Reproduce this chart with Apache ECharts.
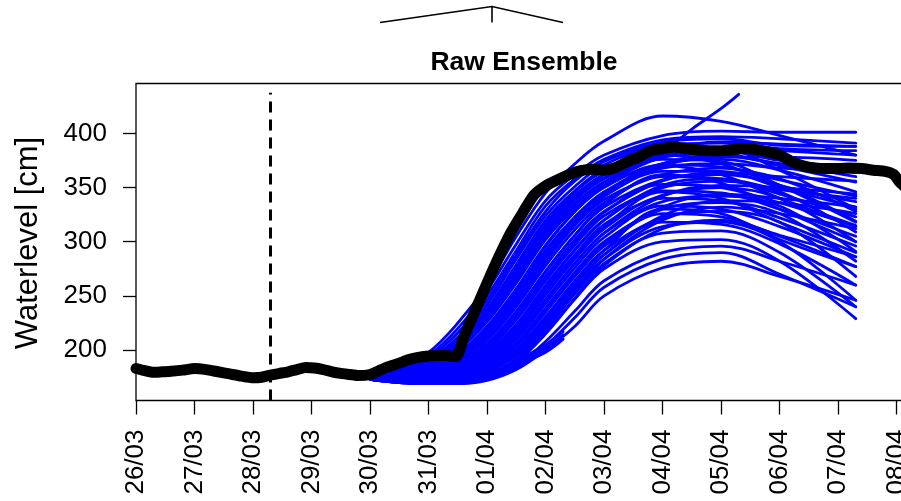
<!DOCTYPE html>
<html>
<head>
<meta charset="utf-8">
<script src="https://cdn.jsdelivr.net/npm/echarts@6/dist/echarts.min.js"></script>
<style>html,body{margin:0;padding:0;background:#fff;}#c{width:901px;height:501px;}</style>
</head>
<body>
<div id="c"></div>
<script>
// ---- data (days since 26/03 00:00) ----
const tickLabels = ['26/03','27/03','28/03','29/03','30/03','31/03','01/04','02/04','03/04','04/04','05/04','06/04','07/04','08/04'];
const xTickDays = [0,1,2,3,4,5,6,7,8,9,10,11,12,13];
const yTicks = [200,250,300,350,400];
const forecastStartDay = 2.29;

const obsDays = [0,0.15,0.3,0.45,0.6,0.8,1.0,1.2,1.4,1.6,1.8,2.0,2.15,2.3,2.45,2.6,2.75,2.9,3.05,3.2,3.35,3.5,3.65,3.8,4.0,4.15,4.3,4.5,4.65,4.8,5.0,5.15,5.3,5.47,5.6,5.8,6.0,6.2,6.4,6.6,6.8,7.0,7.2,7.4,7.6,7.8,8.0,8.2,8.4,8.6,8.8,9.0,9.2,9.4,9.6,9.8,10.0,10.2,10.4,10.6,10.8,11.0,11.2,11.4,11.6,11.8,12.0,12.2,12.4,12.6,12.8,12.95,13.05,13.15];
const obsValues = [183,181,179.5,180,180.5,181.5,183,182,180,178,176,174.5,175,177,178.5,180,182,184,183.5,182,180,178.5,177.5,176.5,177.5,181,184.5,188,191,193,194.5,195,195,194,212,237,262,286,308,326,343,351.5,357,362,365.5,366.8,366,368.6,374,378.5,384,386,387.5,386,384.6,384,384,385,386,385,383,380,374,370,368,367.5,367.5,368,367.5,366,365,362,355,350];

const ensDays = [4.0,4.5,5.0,5.5,6.0,6.5,7.0,7.5,8.0,9.0,10.0,11.0,12.3];
const ensMembers = [
  [176,185,198,225,260,305,345,372,393,416,411,398,380],
  [175,183,195,220,255,298,338,362,380,398,402,401,401],
  [175,182,193,216,250,292,333,358,376,394,397,395,391],
  [175,182,191,212,246,288,328,356,374,392,395,389,388],
  [176,181,190,209,242,284,324,351,371,389,391,386,384],
  [175,181,189,207,238,279,320,347,367,385,386,366,330],
  [175,180,188,205,235,275,316,343,362,382,380,372,360],
  [174,180,187,203,232,271,311,340,359,378,381,370,355],
  [175,180,187,202,229,266,306,335,355,376,374,352,318],
  [174,179,186,200,226,262,302,331,352,372,376,366,346],
  [175,179,185,197,222,257,297,328,350,371,369,357,342],
  [174,178,184,195,219,252,292,323,346,368,372,368,364],
  [175,178,183,193,215,248,287,319,342,365,365,350,332],
  [174,178,182,191,212,244,282,315,339,362,368,358,328],
  [174,177,181,189,209,240,278,311,336,360,358,344,323],
  [175,177,180,187,206,236,273,306,332,357,362,352,319],
  [174,176,179,186,203,232,268,302,328,353,350,336,314],
  [174,176,178,184,200,228,264,297,324,350,356,346,309],
  [174,175,177,183,198,224,260,293,320,347,345,330,305],
  [175,175,176,181,195,220,255,288,316,343,350,340,300],
  [174,174,175,180,193,216,251,284,312,340,338,322,296],
  [174,174,175,179,191,213,247,280,308,337,342,333,291],
  [174,173,174,178,189,210,243,276,304,333,330,314,286],
  [173,173,173,176,187,207,239,272,300,330,336,326,282],
  [174,172,172,175,185,204,235,268,296,326,323,305,277],
  [173,172,172,174,183,201,231,264,292,322,328,318,268],
  [174,172,171,173,181,198,227,260,288,318,316,298,260],
  [173,171,171,172,179,195,223,256,284,314,318,300,246],
  [173,171,170,171,177,192,219,252,280,308,310,290,240],
  [173,171,170,170,175,189,215,247,275,300,302,282,229],
  [173,170,169,169,172,182,200,222,250,276,282,268,246],
  [173,170,169,169,173,184,204,230,258,284,290,270,240],
  [173,170,169,170,174,186,208,236,264,290,296,282,260],
  [175,180,188,206,236,276,318,346,365,380,372,352,337],
  [174,178,184,196,220,255,296,328,352,378,384,375,368],
  [174,177,181,190,210,242,282,316,342,370,378,378,375],
  [174,176,179,185,201,229,266,300,327,356,364,360,356],
  [174,175,177,182,196,222,258,292,320,352,358,348,340],
  [173,174,175,179,190,212,246,280,308,342,352,350,344],
  [173,173,174,177,186,204,236,270,298,332,344,340,332],
  [174,176,179,186,204,234,272,306,334,362,354,330,300],
  [174,177,182,192,214,246,285,318,344,370,362,340,315],
  [173,172,172,174,182,198,226,258,288,324,338,336,326],
  [173,172,171,173,180,195,222,254,284,320,332,326,312],
  [174,175,177,181,194,218,252,286,314,346,340,318,290],
  [173,173,173,175,184,200,230,262,292,330,326,302,277],
  [174,179,186,201,230,268,308,338,358,380,386,384,380],
  [173,171,170,171,176,190,216,248,278,312,320,306,286],
  [174,178,183,194,217,250,290,322,346,372,380,372,364],
  [175,180,187,204,233,272,313,342,362,384,392,390,388]
];

const shortDays = [4.0,4.5,5.0,5.5,6.0,6.5,7.0,7.3];
const shortMembers = [
  [173,170,169,170,175,186,198,210],
  [173,170,169,170,176,188,202,214],
  [173,171,170,171,177,190,205,217]
];

const outlierDays = [4.0,4.5,5.0,5.5,6.0,6.5,7.0,7.5,8.0,9.0,9.5,10.0,10.3];
const outlierValues = [175,179,186,201,228,265,305,334,355,383,404,423,436];

// ---- chart ----
const FONT = 'Liberation Sans, Arial, Helvetica, sans-serif';
const BLUE = '#0000ff';
const Y_MIN = 153.5, Y_MAX = 446;
const series = [];
function pairs(days, vals) { return days.map((d, i) => [d, vals[i]]); }
function blueLine(data) {
  return {
    type: 'line', data: data, smooth: 0.35, showSymbol: false, silent: true,
    lineStyle: { color: BLUE, width: 2.8, cap: 'round', join: 'round' },
    z: 2
  };
}
ensMembers.forEach(m => series.push(blueLine(pairs(ensDays, m))));
shortMembers.forEach(m => series.push(blueLine(pairs(shortDays, m))));
series.push(blueLine(pairs(outlierDays, outlierValues)));
series.push({
  type: 'line', data: pairs(obsDays, obsValues), showSymbol: false, silent: true, smooth: 0.2,
  lineStyle: { color: '#000', width: 11, cap: 'round', join: 'round' },
  z: 5,
  markLine: {
    symbol: 'none', silent: true, label: { show: false },
    lineStyle: { color: '#000', width: 3, type: [11, 7] },
    data: [[{ coord: [forecastStartDay, Y_MIN] }, { coord: [forecastStartDay, 437.5] }]]
  }
});

const chart = echarts.init(document.getElementById('c'), null, { renderer: 'canvas' });
chart.setOption({
  animation: false,
  backgroundColor: '#fff',
  title: {
    text: 'Raw Ensemble', left: 524, top: 49, padding: 0, textAlign: 'center',
    textStyle: { fontFamily: FONT, fontSize: 26.5, fontWeight: 'bold', color: '#000' }
  },
  grid: {
    left: 136, top: 83.5, width: 790, height: 317,
    outerBoundsMode: 'none', containLabel: false,
    show: true, borderColor: '#000', borderWidth: 1.3, backgroundColor: 'transparent'
  },
  xAxis: {
    type: 'value', min: 0, max: 13.5,
    axisLine: { show: false },
    splitLine: { show: false },
    axisTick: { show: true, length: 14, lineStyle: { color: '#000', width: 1.3 }, customValues: xTickDays },
    axisLabel: {
      customValues: xTickDays, rotate: 90, margin: 29,
      fontFamily: FONT, fontSize: 26, color: '#000',
      formatter: v => tickLabels[Math.round(v)]
    }
  },
  yAxis: {
    type: 'value', min: Y_MIN, max: Y_MAX,
    axisLine: { show: false },
    splitLine: { show: false },
    axisTick: { show: true, length: 13, lineStyle: { color: '#000', width: 1.3 }, customValues: yTicks },
    axisLabel: { customValues: yTicks, margin: 29, fontFamily: FONT, fontSize: 26, color: '#000' }
  },
  graphic: [
    {
      type: 'text', x: 28, y: 243, rotation: Math.PI / 2, silent: true,
      style: { text: 'Waterlevel [cm]', font: '31px ' + FONT, fill: '#000', align: 'center', verticalAlign: 'middle' }
    },
    {
      type: 'polyline', silent: true,
      shape: { points: [[380, 22.5], [492, 6.5], [563, 22.5]] },
      style: { stroke: '#000', lineWidth: 1.6, fill: null }
    },
    {
      type: 'line', silent: true,
      shape: { x1: 492, y1: 6.5, x2: 492, y2: 22.5 },
      style: { stroke: '#000', lineWidth: 1.6 }
    }
  ],
  series: series
});
</script>
</body>
</html>
